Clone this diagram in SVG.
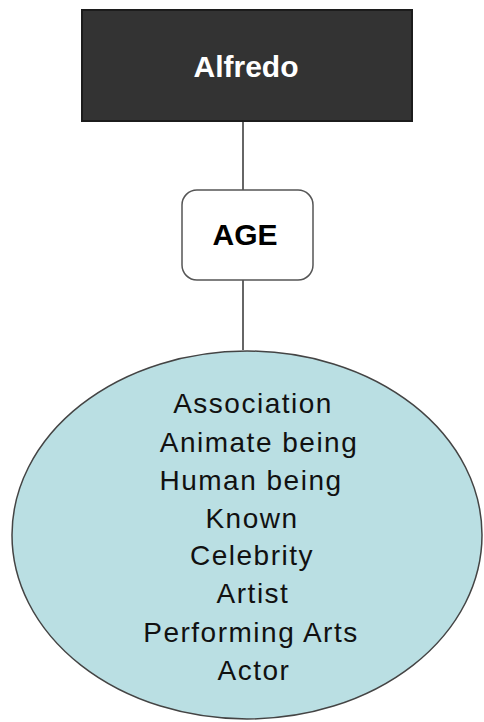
<svg xmlns="http://www.w3.org/2000/svg" width="484" height="722" viewBox="0 0 484 722">
  <style>
    .link { stroke: #333333; stroke-width: 1.5; fill: none; }
    .head { fill: #333333; stroke: #1c1c1c; stroke-width: 2; }
    .head-text { font-family: "Liberation Sans", Arial, sans-serif; font-weight: bold; font-size: 30px; fill: #ffffff; text-anchor: middle; }
    .tag { fill: #ffffff; stroke: #555555; stroke-width: 1.5; }
    .tag-text { font-family: "Liberation Sans", Arial, sans-serif; font-weight: bold; font-size: 30px; fill: #000000; text-anchor: middle; }
    .pool { fill: #badfe3; stroke: #444444; stroke-width: 1.5; }
    .pool-text { font-family: "Liberation Sans", Arial, sans-serif; font-size: 28px; fill: #111111; text-anchor: middle; letter-spacing: 1.5px; }
  </style>
  <rect width="484" height="722" fill="#ffffff"/>

  <!-- connectors -->
  <g id="connectors">
    <line class="link" x1="243" y1="121" x2="243" y2="190"/>
    <line class="link" x1="243" y1="280" x2="243" y2="350"/>
  </g>

  <!-- top entity -->
  <g id="node-alfredo">
    <rect class="head" x="82" y="10" width="330" height="111"/>
    <text class="head-text" x="246" y="77">Alfredo</text>
  </g>

  <!-- relation label -->
  <g id="node-age">
    <rect class="tag" x="182" y="190" width="131" height="90" rx="15" ry="15"/>
    <text class="tag-text" x="245" y="245">AGE</text>
  </g>

  <!-- category list -->
  <g id="node-categories">
    <ellipse class="pool" cx="247" cy="535" rx="235" ry="184"/>
    <text class="pool-text" x="253" y="413">Association</text>
    <text class="pool-text" x="259" y="452">Animate being</text>
    <text class="pool-text" x="251" y="490">Human being</text>
    <text class="pool-text" x="252" y="528">Known</text>
    <text class="pool-text" x="252" y="565">Celebrity</text>
    <text class="pool-text" x="253" y="603">Artist</text>
    <text class="pool-text" x="251" y="642">Performing Arts</text>
    <text class="pool-text" x="254" y="680">Actor</text>
  </g>
</svg>
